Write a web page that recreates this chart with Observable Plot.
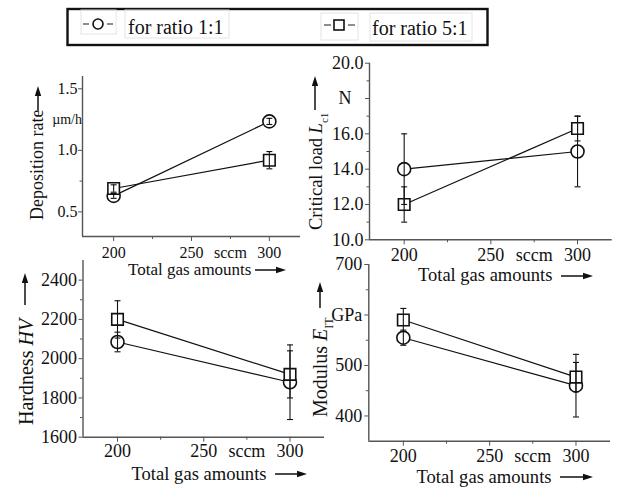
<!DOCTYPE html>
<html><head><meta charset="utf-8">
<script src="https://cdn.jsdelivr.net/npm/d3@7"></script>
<script src="https://cdn.jsdelivr.net/npm/@observablehq/plot@0.6"></script>
<style>
body{margin:0;background:#fff;}
#root{position:relative;width:632px;height:488px;overflow:hidden;background:#fff;}
</style></head><body><div id="root"></div>
<script>
// ---------- data ----------
const seriesNames = ["for ratio 1:1", "for ratio 5:1"];
const gas = [200, 300];
const xMajor = [200, 250, 300];
const xMinor = [225, 275];
const xMinorText = ["", "sccm"];

const depo11 = [0.63, 1.235], depo11Err = [0.02, 0.025];
const depo51 = [0.69, 0.92],  depo51Err = [0.03, 0.07];
const load11 = [14.0, 15.0],  load11Err = [2.0, 2.0];
const load51 = [12.0, 16.3],  load51Err = [1.0, 0.7];
const hard11 = [2085, 1880],  hard11Err = [50, 190];
const hard51 = [2200, 1920],  hard51Err = [95, 120];
const mod11  = [555, 460],    mod11Err  = [15, 62];
const mod51  = [590, 477],    mod51Err  = [23, 29];

const yMajor1 = [0.5, 1.0, 1.5], yMinor1 = [0.75], yUnit1 = [1.25], yUnitText1 = "µm/h";
const yMajor2 = [10, 12, 14, 16, 20], yMinor2 = [11, 13, 15, 17, 19], yUnit2 = [18], yUnitText2 = "N";
const yMajor3 = [1600, 1800, 2000, 2200, 2400], yMinor3 = [1700, 1900, 2100, 2300], yUnit3 = [], yUnitText3 = "";
const yMajor4 = [400, 500, 700], yMinor4 = [450, 550, 650], yUnit4 = [600], yUnitText4 = "GPa";

// ---------- font: pick an installed Times-like serif ----------
function pickFont(cands) {
  const c = document.createElement("canvas").getContext("2d");
  const s = "Total gas amounts 0123456789 for ratio HVWmw";
  for (const f of cands) {
    for (const fb of ["monospace", "sans-serif"]) {
      c.font = `20px ${fb}`; const w0 = c.measureText(s).width;
      c.font = `20px "${f}", ${fb}`; const w1 = c.measureText(s).width;
      if (Math.abs(w0 - w1) > 0.5) return f;
    }
  }
  return null;
}
const picked = pickFont(["Liberation Serif", "Times New Roman", "Tinos", "Times", "Nimbus Roman", "DejaVu Serif", "Noto Serif", "FreeSerif"]);
const FONT = picked ? `"${picked}", serif` : "serif";

// ---------- style ----------
const W = 632, H = 488;
const AX = "#555", INK = "#111";
const root = document.getElementById("root");
root.style.fontFamily = FONT;

const capSymbol = {draw(ctx, size) { const w = Math.sqrt(size / Math.PI); ctx.moveTo(-w, 0); ctx.lineTo(w, 0); }};

function makePanel(cfg) {
  const rows = [];
  const vals = [cfg.s11, cfg.s51], errs = [cfg.e11, cfg.e51];
  seriesNames.forEach((s, k) => gas.forEach((g, i) => rows.push({series: s, gas: g, v: vals[k][i], e: errs[k][i]})));
  const [L, R, T, B] = cfg.frame;
  const fs = cfg.fs;
  const marks = [
    Plot.axisX(xMajor, {anchor: "bottom", tickSize: 5, tickPadding: cfg.xPad, tickFormat: d => String(d), stroke: AX, fill: INK, fontSize: fs, fontFamily: FONT, label: null}),
    Plot.axisX(xMinor, {anchor: "bottom", tickSize: 3, tickPadding: cfg.xPad + 2, tickFormat: d => xMinorText[xMinor.indexOf(d)], stroke: AX, fill: INK, fontSize: fs, fontFamily: FONT, label: null}),
    Plot.axisY(cfg.yMajor, {anchor: "left", tickSize: 4, tickPadding: cfg.yPad, tickFormat: cfg.fmt, stroke: AX, fill: INK, fontSize: fs, fontFamily: FONT, label: null}),
    Plot.axisY(cfg.yMinor, {anchor: "left", tickSize: 2.5, tickPadding: 0, tickFormat: () => "", stroke: AX, label: null}),
    Plot.ruleX([180], {stroke: AX, strokeWidth: 1.4}),
    Plot.ruleY([cfg.yDomain[0]], {stroke: AX, strokeWidth: 1.4}),
    Plot.line(rows, {x: "gas", y: "v", z: "series", stroke: INK, strokeWidth: 1.2}),
    Plot.dot(rows, {x: "gas", y: "v", symbol: "series", r: 6.5, fill: "white", stroke: INK, strokeWidth: 1.6}),
    Plot.ruleX(rows, {x: "gas", y1: d => d.v - d.e, y2: d => d.v + d.e, stroke: INK, strokeWidth: 1.1}),
    Plot.dot(rows, {x: "gas", y: d => d.v + d.e, symbol: capSymbol, r: 3, fill: "none", stroke: INK, strokeWidth: 1.1}),
    Plot.dot(rows, {x: "gas", y: d => d.v - d.e, symbol: capSymbol, r: 3, fill: "none", stroke: INK, strokeWidth: 1.1})
  ];
  if (cfg.yUnit.length) {
    marks.push(Plot.axisY(cfg.yUnit, {anchor: "left", tickSize: cfg.unitTick, tickPadding: cfg.unitPad, tickFormat: () => cfg.unitText, stroke: AX, fill: INK, fontSize: cfg.unitFs, fontFamily: FONT, label: null}));
  }
  const svg = Plot.plot({
    width: W, height: H,
    marginLeft: L, marginRight: W - R, marginTop: T, marginBottom: H - B,
    style: {background: "transparent", fontFamily: FONT, fontSize: fs + "px", color: INK, overflow: "visible"},
    x: {domain: [180, 320]},
    y: {domain: cfg.yDomain},
    symbol: {domain: seriesNames, range: ["circle", "square"]},
    marks
  });
  svg.style.position = "absolute"; svg.style.left = "0px"; svg.style.top = "0px";
  root.appendChild(svg);
}

const f1 = d3.format(".1f");
makePanel({frame: [82, 300, 76, 236], yDomain: [0.3, 1.6], s11: depo11, e11: depo11Err, s51: depo51, e51: depo51Err,
  yMajor: yMajor1, yMinor: yMinor1, yUnit: yUnit1, unitText: yUnitText1, unitTick: 0, unitPad: 0.5, unitFs: 14,
  fmt: f1, fs: 16, xPad: 5, yPad: 1});
makePanel({frame: [369, 611.7, 62.7, 239.3], yDomain: [10, 20], s11: load11, e11: load11Err, s51: load51, e51: load51Err,
  yMajor: yMajor2, yMinor: yMinor2, yUnit: yUnit2, unitText: yUnitText2, unitTick: 4, unitPad: 14, unitFs: 18,
  fmt: f1, fs: 18, xPad: 3, yPad: 2});
makePanel({frame: [82.5, 324, 260, 436.7], yDomain: [1600, 2500], s11: hard11, e11: hard11Err, s51: hard51, e51: hard51Err,
  yMajor: yMajor3, yMinor: yMinor3, yUnit: yUnit3, unitText: yUnitText3, unitTick: 4, unitPad: 2, unitFs: 18,
  fmt: d => String(d), fs: 18, xPad: 2.5, yPad: 2});
makePanel({frame: [368.3, 610, 264, 440.7], yDomain: [350, 700], s11: mod11, e11: mod11Err, s51: mod51, e51: mod51Err,
  yMajor: yMajor4, yMinor: yMinor4, yUnit: yUnit4, unitText: yUnitText4, unitTick: 4, unitPad: 2.5, unitFs: 18,
  fmt: d => String(d), fs: 18, xPad: 3.5, yPad: 2.5});

// ---------- overlay: legend, axis titles, arrows ----------
const ov = d3.select(root).append("svg").attr("width", W).attr("height", H)
  .style("position", "absolute").style("left", "0px").style("top", "0px");

function txt(sel) { return sel.attr("font-family", FONT).attr("fill", INK); }
function hArrow(x1, x2, y) {
  ov.append("line").attr("x1", x1).attr("x2", x2 - 8).attr("y1", y).attr("y2", y).attr("stroke", INK).attr("stroke-width", 1.5);
  ov.append("path").attr("d", `M${x2},${y}L${x2 - 10},${y - 3.2}L${x2 - 10},${y + 3.2}Z`).attr("fill", INK);
}
function vArrow(x, y1, yTip) {
  ov.append("line").attr("x1", x).attr("x2", x).attr("y1", y1).attr("y2", yTip + 8).attr("stroke", INK).attr("stroke-width", 1.5);
  ov.append("path").attr("d", `M${x},${yTip}L${x - 3.2},${yTip + 10}L${x + 3.2},${yTip + 10}Z`).attr("fill", INK);
}
function xLabel(x, baseline, size, arrowX1, arrowX2, arrowY) {
  txt(ov.append("text")).attr("x", x).attr("y", baseline).attr("font-size", size).text("Total gas amounts");
  hArrow(arrowX1, arrowX2, arrowY);
}
function yLabel(cx, bottom, size, parts, ax, a1, aTip) {
  const t = txt(ov.append("text")).attr("transform", `translate(${cx},${bottom}) rotate(-90)`).attr("font-size", size);
  let first = true;
  parts.forEach(p => {
    const sp = t.append("tspan").text(p.t);
    if (p.i) sp.attr("font-style", "italic");
    if (p.sub) sp.attr("font-size", size * 0.6).attr("dy", "0.5em");
    else if (first) sp.attr("dy", "0.33em");
    first = false;
  });
  vArrow(ax, a1, aTip);
}

xLabel(128, 275, 17, 255, 286, 270);
xLabel(418, 281, 18.5, 561, 593, 276);
xLabel(131.5, 479.5, 18.6, 275, 307, 474);
xLabel(416.5, 482.5, 18.6, 560, 593, 477);

yLabel(37, 220, 18, [{t: "Deposition rate"}], 38, 110, 86);
yLabel(316, 230, 18.5, [{t: "Critical load "}, {t: "L", i: true}, {t: "c1", sub: true}], 315, 110, 76);
yLabel(26, 425, 20, [{t: "Hardness "}, {t: "HV", i: true}], 25, 305, 273);
yLabel(320, 417, 20, [{t: "Modulus "}, {t: "E", i: true}, {t: "IT", sub: true}], 320, 308, 282);

// legend
ov.append("rect").attr("x", 67.5).attr("y", 9).attr("width", 420).attr("height", 36)
  .attr("fill", "none").attr("stroke", INK).attr("stroke-width", 2.4);
[[81, 10, 35, 24], [125, 10, 104, 28], [321, 13, 37, 27], [370, 13, 102, 28]].forEach(([x, y, w, h]) =>
  ov.append("rect").attr("x", x).attr("y", y).attr("width", w).attr("height", h).attr("fill", "none").attr("stroke", "#e4e4e4").attr("stroke-width", 1));
const legendItems = [
  {sym: "circle", cx: 98, cy: 24, d1: [83, 89], d2: [107, 113], tx: 128, ty: 33.5},
  {sym: "square", cx: 339, cy: 25, d1: [324, 331], d2: [348, 355], tx: 372, ty: 34.5}
];
legendItems.forEach((it, k) => {
  [it.d1, it.d2].forEach(([a, b]) => ov.append("line").attr("x1", a).attr("x2", b).attr("y1", it.cy).attr("y2", it.cy).attr("stroke", "#444").attr("stroke-width", 1.2));
  if (it.sym === "circle") ov.append("circle").attr("cx", it.cx).attr("cy", it.cy).attr("r", 5).attr("fill", "white").attr("stroke", INK).attr("stroke-width", 1.6);
  else ov.append("rect").attr("x", it.cx - 5).attr("y", it.cy - 5).attr("width", 10).attr("height", 10).attr("fill", "white").attr("stroke", INK).attr("stroke-width", 1.6);
  txt(ov.append("text")).attr("x", it.tx).attr("y", it.ty).attr("font-size", 20).text(seriesNames[k]);
});
</script>
</body></html>
